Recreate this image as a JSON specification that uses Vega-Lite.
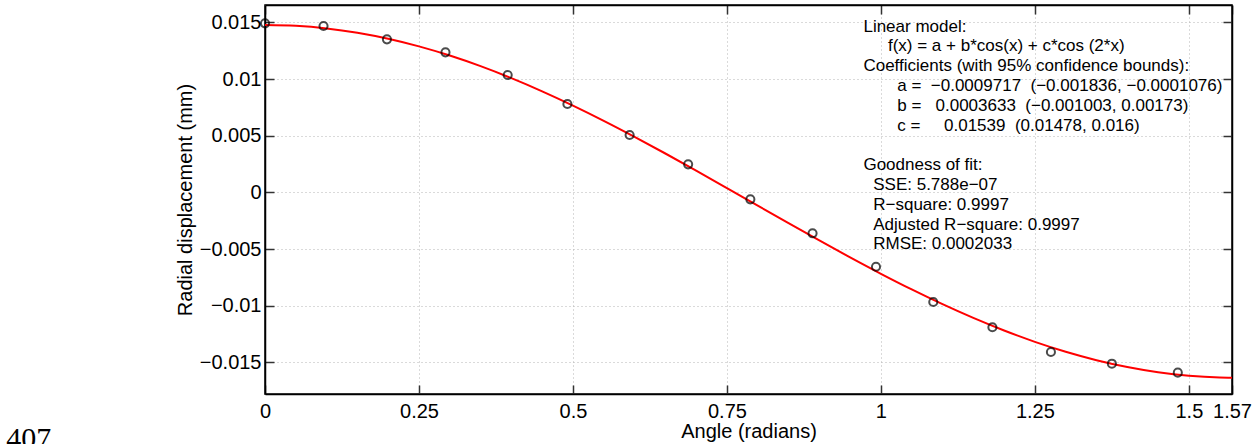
{
  "$schema": "https://vega.github.io/schema/vega-lite/v6.json",
  "width": 967,
  "height": 389,
  "autosize": {"type": "none"},
  "padding": {"left": 265, "top": 5, "right": 25, "bottom": 50},
  "background": "white",
  "config": {
    "view": {"stroke": "black", "strokeWidth": 1.5},
    "font": "Liberation Sans",
    "text": {"font": "Liberation Sans", "fontSize": 17, "align": "left", "baseline": "alphabetic", "color": "black", "lineHeight": 19.8},
    "axis": {
      "labelFont": "Liberation Sans",
      "titleFont": "Liberation Sans",
      "labelFontSize": 20,
      "titleFontSize": 20,
      "titleFontWeight": "normal",
      "labelColor": "black",
      "titleColor": "black",
      "domainColor": "black",
      "domainWidth": 1.5,
      "tickColor": "#333333",
      "tickWidth": 1.5,
      "tickSize": -9,
      "gridColor": "#b4b4b4",
      "gridDash": [1, 3],
      "gridWidth": 1
    }
  },
  "datasets": {
    "curve": [
      {"angle": 0.0, "disp": 0.0147816},
      {"angle": 0.05, "disp": 0.0147043},
      {"angle": 0.1, "disp": 0.014473},
      {"angle": 0.15, "disp": 0.0140901},
      {"angle": 0.2, "disp": 0.0135595},
      {"angle": 0.25, "disp": 0.0128863},
      {"angle": 0.3, "disp": 0.0120773},
      {"angle": 0.35, "disp": 0.0111405},
      {"angle": 0.4, "disp": 0.0100852},
      {"angle": 0.45, "disp": 0.008922},
      {"angle": 0.5, "disp": 0.0076623},
      {"angle": 0.55, "disp": 0.0063188},
      {"angle": 0.6, "disp": 0.0049048},
      {"angle": 0.65, "disp": 0.0034343},
      {"angle": 0.7, "disp": 0.001922},
      {"angle": 0.75, "disp": 0.0003827},
      {"angle": 0.8, "disp": -0.001168},
      {"angle": 0.85, "disp": -0.0027148},
      {"angle": 0.9, "disp": -0.0042425},
      {"angle": 0.95, "disp": -0.0057358},
      {"angle": 1.0, "disp": -0.0071799},
      {"angle": 1.05, "disp": -0.0085605},
      {"angle": 1.1, "disp": -0.009864},
      {"angle": 1.15, "disp": -0.0110773},
      {"angle": 1.2, "disp": -0.0121886},
      {"angle": 1.25, "disp": -0.0131867},
      {"angle": 1.3, "disp": -0.014062},
      {"angle": 1.35, "disp": -0.0148058},
      {"angle": 1.4, "disp": -0.0154108},
      {"angle": 1.45, "disp": -0.0158709},
      {"angle": 1.5, "disp": -0.016182},
      {"angle": 1.55, "disp": -0.0163408},
      {"angle": 1.57, "disp": -0.0163614}
    ],
    "points": [
      {"angle": 0.0, "disp": 0.014921},
      {"angle": 0.095, "disp": 0.014683},
      {"angle": 0.198, "disp": 0.013509},
      {"angle": 0.293, "disp": 0.012362},
      {"angle": 0.394, "disp": 0.010359},
      {"angle": 0.491, "disp": 0.0078},
      {"angle": 0.592, "disp": 0.005065},
      {"angle": 0.687, "disp": 0.002479},
      {"angle": 0.788, "disp": -0.000609},
      {"angle": 0.889, "disp": -0.003609},
      {"angle": 0.992, "disp": -0.006556},
      {"angle": 1.085, "disp": -0.009671},
      {"angle": 1.181, "disp": -0.011903},
      {"angle": 1.276, "disp": -0.014083},
      {"angle": 1.375, "disp": -0.015115},
      {"angle": 1.482, "disp": -0.015909}
    ],
    "pagenum": [{"label": "407"}]
  },
  "layer": [
    {
      "data": {"name": "curve"},
      "mark": {"type": "line", "color": "#ff0000", "strokeWidth": 2, "interpolate": "monotone"},
      "encoding": {
        "x": {
          "field": "angle", "type": "quantitative",
          "scale": {"domain": [0, 1.57], "nice": false, "zero": false},
          "axis": {
            "orient": "bottom",
            "values": [0, 0.25, 0.5, 0.75, 1, 1.25, 1.5, 1.57],
            "format": ".6~g",
            "grid": true,
            "labelPadding": 16,
            "labelFlush": false,
            "title": "Angle (radians)",
            "titlePadding": 0
          }
        },
        "y": {
          "field": "disp", "type": "quantitative",
          "scale": {"domain": [-0.01779, 0.01654], "nice": false, "zero": false},
          "axis": {
            "orient": "left",
            "values": [-0.015, -0.01, -0.005, 0, 0.005, 0.01, 0.015],
            "format": ".6~g",
            "grid": true,
            "labelPadding": 13,
            "title": "Radial displacement (mm)",
            "titlePadding": 4
          }
        }
      }
    },
    {
      "data": {"name": "points"},
      "mark": {"type": "point", "shape": "circle", "filled": false, "color": "black", "size": 66, "strokeWidth": 2},
      "encoding": {
        "x": {
          "field": "angle", "type": "quantitative",
          "axis": {
            "orient": "top",
            "values": [0, 0.25, 0.5, 0.75, 1, 1.25, 1.5, 1.57],
            "labels": false, "grid": false, "title": null
          }
        },
        "y": {
          "field": "disp", "type": "quantitative",
          "axis": {
            "orient": "right",
            "values": [-0.015, -0.01, -0.005, 0, 0.005, 0.01, 0.015],
            "labels": false, "grid": false, "title": null
          }
        }
      }
    },
    {
      "data": {"values": [{"label": "Linear model:"}]},
      "mark": {"type": "text"},
      "encoding": {
        "x": {"datum": 0.9716, "type": "quantitative", "axis": null},
        "y": {"datum": 0.014198, "type": "quantitative", "axis": null},
        "text": {"field": "label"}
      }
    },
    {
      "data": {"values": [{"label": "f(x) = a + b*cos(x) + c*cos (2*x)"}]},
      "mark": {"type": "text"},
      "encoding": {
        "x": {"datum": 1.0114, "type": "quantitative", "axis": null},
        "y": {"datum": 0.01245, "type": "quantitative", "axis": null},
        "text": {"field": "label"}
      }
    },
    {
      "data": {"values": [{"label": "Coefficients (with 95% confidence bounds):"}]},
      "mark": {"type": "text"},
      "encoding": {
        "x": {"datum": 0.9716, "type": "quantitative", "axis": null},
        "y": {"datum": 0.010703, "type": "quantitative", "axis": null},
        "text": {"field": "label"}
      }
    },
    {
      "data": {"values": [{"label": "a =\u00a0\u00a0\u22120.0009717\u00a0\u00a0(\u22120.001836, \u22120.0001076)\nb =\u00a0\u00a0\u00a00.0003633\u00a0\u00a0(\u22120.001003, 0.00173)\nc =\u00a0\u00a0\u00a0\u00a0\u00a00.01539\u00a0\u00a0(0.01478, 0.016)"}]},
      "mark": {"type": "text", "lineBreak": "\n"},
      "encoding": {
        "x": {"datum": 1.0265, "type": "quantitative", "axis": null},
        "y": {"datum": 0.008956, "type": "quantitative", "axis": null},
        "text": {"field": "label"}
      }
    },
    {
      "data": {"values": [{"label": "Goodness of fit:"}]},
      "mark": {"type": "text"},
      "encoding": {
        "x": {"datum": 0.9716, "type": "quantitative", "axis": null},
        "y": {"datum": 0.001968, "type": "quantitative", "axis": null},
        "text": {"field": "label"}
      }
    },
    {
      "data": {"values": [{"label": "SSE: 5.788e\u221207\nR\u2212square: 0.9997\nAdjusted R\u2212square: 0.9997\nRMSE: 0.0002033"}]},
      "mark": {"type": "text", "lineBreak": "\n"},
      "encoding": {
        "x": {"datum": 0.9875, "type": "quantitative", "axis": null},
        "y": {"datum": 0.000221, "type": "quantitative", "axis": null},
        "text": {"field": "label"}
      }
    },
    {
      "data": {"name": "pagenum"},
      "mark": {"type": "text", "fontSize": 30, "font": "Liberation Serif"},
      "encoding": {
        "x": {"datum": -0.42, "type": "quantitative", "axis": null},
        "y": {"datum": -0.022554, "type": "quantitative", "axis": null},
        "text": {"field": "label"}
      }
    }
  ],
  "resolve": {"axis": {"x": "independent", "y": "independent"}}
}
